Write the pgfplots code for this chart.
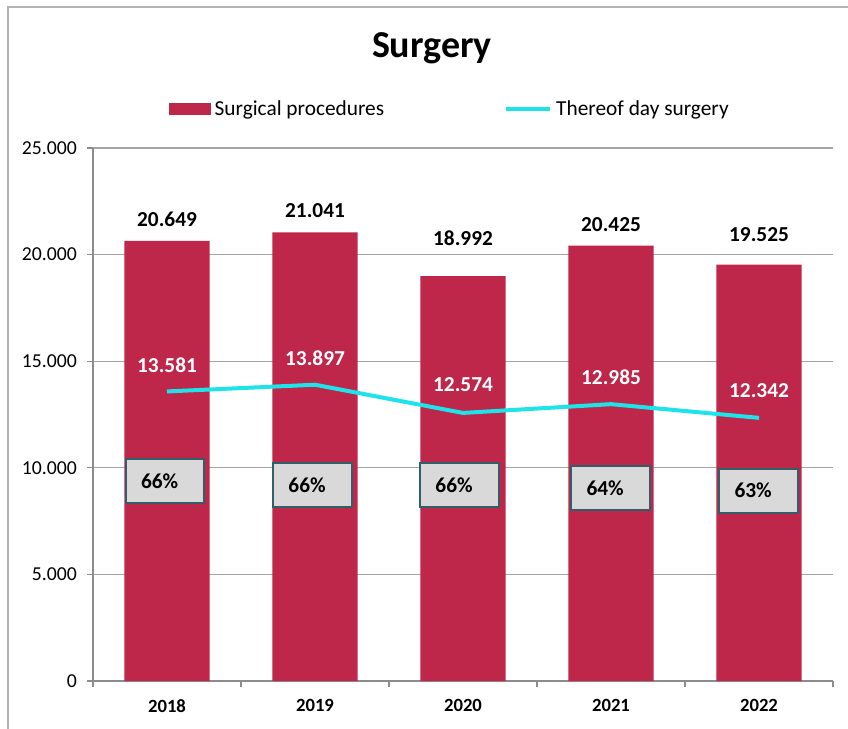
\documentclass[border=0pt]{standalone}
\usepackage{pgfplots}
\pgfplotsset{compat=1.18}
\usepackage{fontspec}
\setmainfont{Carlito}
\definecolor{barred}{RGB}{190,38,74}
\definecolor{linecyan}{RGB}{28,228,232}
\definecolor{boxgray}{RGB}{217,217,217}
\definecolor{boxborder}{RGB}{49,94,104}
\definecolor{gridgray}{RGB}{165,165,165}
\definecolor{axisgray}{RGB}{140,140,140}
\begin{document}
\begin{tikzpicture}
\useasboundingbox (-69.75pt,-35.25pt) rectangle (566.25pt,510.75pt);
\draw[color=gray!60, line width=1pt] (-63.75pt,-40pt) -- (-63.75pt,505.5pt) -- (570pt,505.5pt);
\begin{axis}[
  scale only axis, width=555pt, height=399.75pt,
  xmin=-0.5, xmax=4.5, ymin=0, ymax=25000,
  scaled y ticks=false,
  axis x line*=bottom, axis y line*=left,
  axis line style={axisgray, line width=1pt},
  tick align=outside,
  xtick={0,1,2,3,4},
  xticklabels={2018,2019,2020,2021,2022},
  minor xtick={-0.5,0.5,1.5,2.5,3.5,4.5},
  major x tick style={draw=none},
  minor x tick style={axisgray, line width=1pt},
  minor tick length=4.5pt,
  major tick length=4.5pt,
  y tick style={axisgray, line width=1pt},
  ytick={0,5000,10000,15000,20000,25000},
  yticklabels={0,5.000,10.000,15.000,20.000,25.000},
  ymajorgrids, grid style={gridgray, line width=0.9pt},
  /pgf/number format/assume math mode=true,
  yticklabel style={font=\fontsize{14.8}{17}\selectfont, xshift=-4pt},
  xticklabel style={font=\fontsize{14}{17}\selectfont\bfseries, yshift=-6pt},
  title={Surgery},
  title style={font=\fontsize{28.5}{34}\selectfont\bfseries, at={(0.458,1.173)}, anchor=center},
  legend columns=2,
  legend style={at={(0.1027,1.073)}, anchor=west, draw=none, fill=none,
    inner sep=0pt, font=\fontsize{16}{19}\selectfont,
    nodes={inner sep=0pt},
    /tikz/every odd column/.append style={column sep=3pt},
    /tikz/every even column/.append style={column sep=90pt}},
]
\addplot[ybar, bar width=0.575, fill=barred, draw=none,
  legend image code/.code={\fill[barred] (0pt,-4.5pt) rectangle (31pt,4.5pt);}]
  coordinates {(0,20649) (1,21041) (2,18992) (3,20425) (4,19525)};
\addlegendentry{Surgical procedures}
\addplot[linecyan, line width=3pt, mark=none,
  legend image code/.code={\draw[linecyan, line width=3pt] (0pt,0pt) -- (33pt,0pt);}]
  coordinates {(0,13581) (1,13897) (2,12574) (3,12985) (4,12342)};
\addlegendentry{Thereof day surgery}
% bar value labels
\addplot[draw=none, mark=none, forget plot, nodes near coords, point meta=explicit symbolic,
  nodes near coords style={anchor=center, text=black, font=\fontsize{16}{19}\selectfont\bfseries}]
  table[meta=label] {
x y label
0 21655 20.649
1 22060 21.041
2 20780 18.992
3 21390 20.425
4 20920 19.525
};
% line value labels
\addplot[draw=none, mark=none, forget plot, nodes near coords, point meta=explicit symbolic,
  nodes near coords style={anchor=center, text=white, font=\fontsize{16}{19}\selectfont\bfseries}]
  table[meta=label] {
x y label
0 14820 13.581
1 15140 13.897
2 13880 12.574
3 14230 12.985
4 13620 12.342
};
% share boxes
\addplot[draw=none, mark=none, forget plot, nodes near coords, point meta=explicit symbolic,
  nodes near coords style={anchor=center, text=black, fill=boxgray, draw=boxborder,
    line width=1.5pt, minimum height=33pt, text width=36pt, inner xsep=11.5pt, align=left,
    font=\fontsize{16}{19}\selectfont\bfseries}]
  table[meta=label] {
x y label
-0.0135 9381 66\%
0.983 9193 66\%
1.976 9180 66\%
2.997 9053 64\%
3.997 8935 63\%
};
\end{axis}
\end{tikzpicture}
\end{document}
